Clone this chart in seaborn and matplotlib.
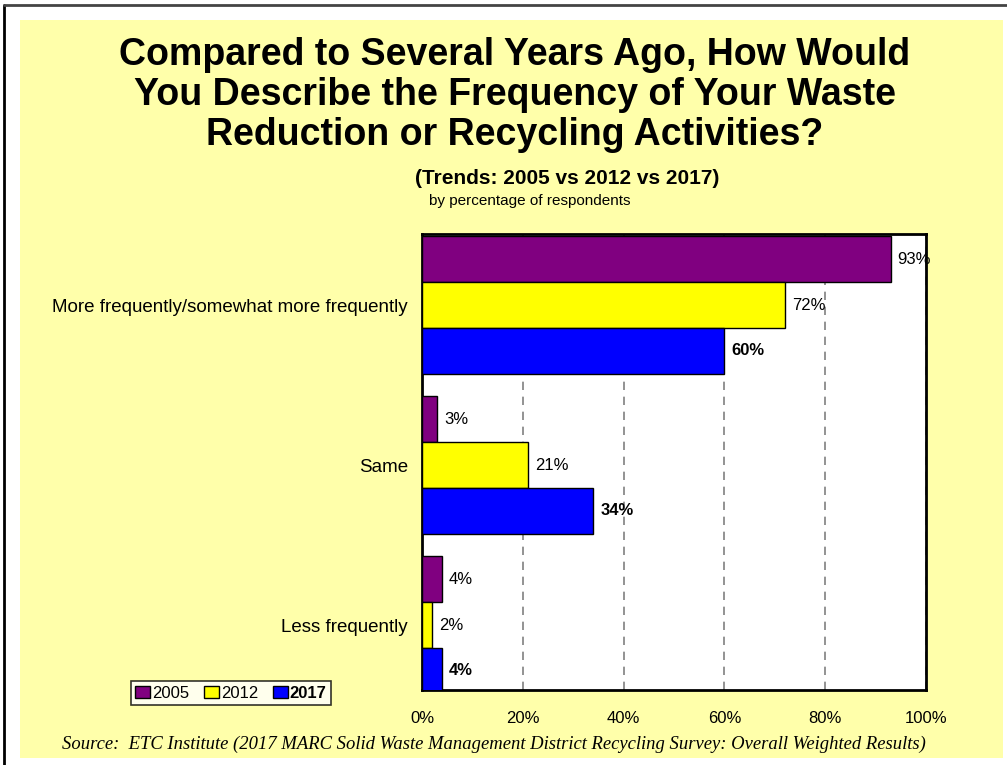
"""
Recycling survey trend chart: frequency of waste reduction / recycling.
"""
import pandas as pd
import matplotlib.pyplot as plt
import seaborn as sns
from matplotlib.patches import Rectangle, Patch

responses = ['More frequently/somewhat more frequently', 'Same', 'Less frequently']
years = ['2005', '2012', '2017']
pct_2005 = [93, 3, 4]
pct_2012 = [72, 21, 2]
pct_2017 = [60, 34, 4]
colors = ['#800080', '#FFFF00', '#0000FF']
x_ticks = [0, 20, 40, 60, 80, 100]

df = pd.DataFrame({
    'response': responses * 3,
    'year': [y for y in years for _ in responses],
    'pct': pct_2005 + pct_2012 + pct_2017,
})

sns.set_style('white')
plt.rcParams['font.family'] = ['Liberation Sans', 'DejaVu Sans']
plt.rcParams['text.color'] = 'black'
plt.rcParams['xtick.color'] = 'black'
plt.rcParams['ytick.color'] = 'black'

fig = plt.figure(figsize=(10.07, 7.65), dpi=100)
fig.patch.set_facecolor('white')

# yellow panel and the outer border lines
fig.patches.append(Rectangle((20 / 1007, 1 - 758 / 765), 983 / 1007, 738 / 765,
                             transform=fig.transFigure, facecolor='#FFFFAA',
                             edgecolor='none', zorder=-5))
fig.add_artist(plt.Line2D([4 / 1007, 4 / 1007], [0, 1 - 5 / 765],
                          transform=fig.transFigure, color='black', lw=2))
fig.add_artist(plt.Line2D([4 / 1007, 1], [1 - 5 / 765, 1 - 5 / 765],
                          transform=fig.transFigure, color='#444444', lw=2))

ax = fig.add_axes([422 / 1007, 1 - 690 / 765, 504 / 1007, 456 / 765])
ax.set_zorder(2)
sns.barplot(data=df, y='response', x='pct', hue='year', orient='h',
            palette=colors, saturation=1, edgecolor='black', linewidth=1,
            width=0.86, legend=False, ax=ax, zorder=3)

ax.set_facecolor('white')
ax.set_xlim(0, 100)
ax.set_ylim(2.406, -0.444)
ax.set_xticks(x_ticks)
ax.set_xticklabels([f'{t}%' for t in x_ticks], fontsize=12)
ax.tick_params(axis='x', length=0, pad=15)
ax.tick_params(axis='y', length=0, pad=10, labelsize=13.5)
ax.set_xlabel('')
ax.set_ylabel('')
ax.xaxis.grid(True, linestyle=(0, (5, 4)), color='#808080', linewidth=1.2, zorder=0)
ax.set_axisbelow(True)
for s in ax.spines.values():
    s.set_linewidth(2)
    s.set_color('black')

# value labels
for cont, yr in zip(ax.containers, years):
    labels = [f'{int(v)}%' for v in cont.datavalues]
    ax.bar_label(cont, labels=labels, padding=5, fontsize=12,
                 fontweight='bold' if yr == '2017' else 'normal', zorder=5)

# legend
handles = [Patch(facecolor=c, edgecolor='black') for c in colors]
leg = fig.legend(handles, years, loc='center', ncol=3,
                 bbox_to_anchor=(231 / 1007, 1 - 693 / 765),
                 frameon=True, fancybox=False, edgecolor='black',
                 fontsize=12, handlelength=0.9, handleheight=0.7,
                 handletextpad=0.1, columnspacing=0.9, borderpad=0.25)
leg.get_frame().set_linewidth(1.2)
leg.get_texts()[2].set_fontweight('bold')

# titles
title_lines = ['Compared to Several Years Ago, How Would',
               'You Describe the Frequency of Your Waste',
               'Reduction or Recycling Activities?']
for i, line in enumerate(title_lines):
    fig.text(0.511, 1 - (55 + 40 * i) / 765, line, ha='center', va='center',
             fontsize=27, fontweight='bold')
fig.text(0.563, 1 - 178 / 765, '(Trends: 2005 vs 2012 vs 2017)', ha='center',
         va='center', fontsize=15, fontweight='bold')
fig.text(0.526, 1 - 201 / 765, 'by percentage of respondents', ha='center',
         va='center', fontsize=11)

fig.text(62 / 1007, 1 - 744 / 765,
         'Source:  ETC Institute (2017 MARC Solid Waste Management District '
         'Recycling Survey: Overall Weighted Results)',
         ha='left', va='center', fontsize=13.4, style='italic',
         family=['Liberation Serif', 'DejaVu Serif'])

fig.savefig('out.png', dpi=100)
plt.close(fig)
